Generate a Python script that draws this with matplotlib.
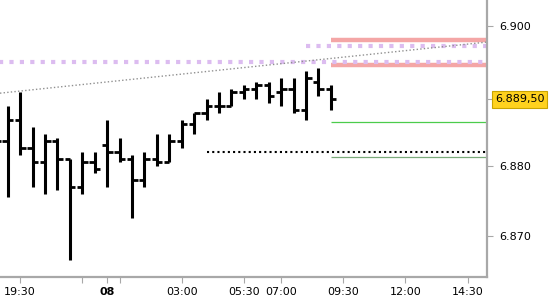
import numpy as np
import matplotlib.pyplot as plt

# 30 min OHLC bars (index based x axis, session gaps removed)
opens  = [6884.0, 6883.5, 6886.5, 6882.5, 6880.5, 6883.5, 6881.0, 6877.0, 6880.5, 6883.0,
          6882.0, 6881.0, 6878.0, 6881.0, 6880.5, 6883.5, 6886.0, 6887.5, 6888.5, 6888.5,
          6890.5, 6891.0, 6891.5, 6890.5, 6891.0, 6888.0, 6892.0, 6891.0]
highs  = [6888.0, 6888.5, 6890.5, 6885.5, 6884.5, 6884.0, 6881.0, 6882.0, 6882.0, 6886.5,
          6884.0, 6881.5, 6882.0, 6884.5, 6884.5, 6886.5, 6887.5, 6889.5, 6890.5, 6891.0,
          6891.5, 6892.0, 6892.0, 6892.5, 6892.5, 6893.5, 6894.0, 6891.5]
lows   = [6876.0, 6875.5, 6881.5, 6877.0, 6876.0, 6876.5, 6866.5, 6876.0, 6879.0, 6877.0,
          6880.5, 6872.5, 6877.0, 6880.0, 6880.5, 6882.5, 6884.5, 6886.5, 6887.5, 6888.5,
          6889.5, 6889.5, 6889.0, 6888.5, 6887.5, 6886.5, 6890.0, 6888.0]
closes = [6883.5, 6886.5, 6882.5, 6880.5, 6883.5, 6881.0, 6877.0, 6880.5, 6879.5, 6882.0,
          6881.0, 6878.0, 6881.0, 6880.5, 6883.5, 6886.0, 6887.5, 6888.5, 6888.5, 6890.5,
          6891.0, 6891.5, 6890.0, 6891.0, 6888.0, 6892.5, 6891.0, 6889.5]

# x axis labels at bar index
tick_pos    = [2, 7, 9, 10, 15, 20, 23, 28, 33, 38]
tick_labels = ['19:30', '', '08', '', '03:00', '05:30', '07:00', '09:30', '12:00', '14:30']

# y axis
ytick_vals = [6870, 6880, 6889.5, 6900]
last_price = 6889.5

# horizontal levels: (price, start index)
pink_levels   = [(6898.0, 27), (6894.4, 27)]
purple_levels = [(6897.1, 25), (6894.9, 0)]
green_levels  = [(6886.3, 27, '#4ccc4c'), (6881.3, 27, '#7aaa7a')]
dotted_level  = (6882.0, 17)
trend_x = [0.38, 39.56]
trend_y = [6890.4, 6897.7]

x_left, x_right = 0.38, 39.56

fig = plt.figure(figsize=(5.5, 3), dpi=100)
ax = fig.add_axes([0, 23 / 300, 487 / 550, 277 / 300])

x = np.arange(len(opens))

# levels
for lvl, start in pink_levels:
    ax.hlines(lvl, start, x_right, color='#f4a6a6', lw=3.2, zorder=1)
for lvl, start in purple_levels:
    ax.hlines(lvl, start, x_right, color='#dcbcf0', lw=3.0,
              linestyles=(0, (1, 1.5)), zorder=2)
for lvl, start, col in green_levels:
    ax.hlines(lvl, start, x_right, color=col, lw=0.9, zorder=2)
ax.hlines(dotted_level[0], dotted_level[1], x_right, color='black', lw=1.5,
          linestyles=(0, (1, 1.5)), zorder=2)
ax.plot(trend_x, trend_y, color='#909090', lw=1.0, ls=(0, (1, 1.6)), zorder=2)

# OHLC bars
ax.vlines(x, lows, highs, color='black', lw=2.2, capstyle='butt', zorder=3)
ax.hlines(opens, x - 0.42, x, color='black', lw=2.0, zorder=3)
ax.hlines(closes, x, x + 0.45, color='black', lw=2.0, zorder=3)

ax.set_xlim(x_left, x_right)
ax.set_ylim(6864.14, 6903.71)

for s in ['top', 'left']:
    ax.spines[s].set_visible(False)
for s in ['right', 'bottom']:
    ax.spines[s].set_color('#a8a8a8')
    ax.spines[s].set_linewidth(1.6)

ax.set_xticks(tick_pos)
ax.set_xticklabels(tick_labels)
ax.tick_params(axis='x', length=4, color='#a8a8a8', labelsize=8, pad=3)
for lab in ax.get_xticklabels():
    if lab.get_text() == '08':
        lab.set_fontweight('bold')

ax.yaxis.tick_right()
ax.set_yticks(ytick_vals)
ax.set_yticklabels(['' if v == last_price else f'{v:,.0f}'.replace(',', '.') for v in ytick_vals])
ax.tick_params(axis='y', length=4, color='#a8a8a8', labelsize=8, pad=5)
ax.yaxis.get_major_ticks()[2].tick2line.set_color('black')

# last price label
ax.text(1.016, last_price, '6.889,50', transform=ax.get_yaxis_transform(),
        ha='left', va='center', fontsize=8, color='black', clip_on=False,
        bbox=dict(boxstyle='square,pad=0.28', fc='#ffd21e', ec='#c9a400', lw=0.8))

fig.savefig('out.png', dpi=100)
